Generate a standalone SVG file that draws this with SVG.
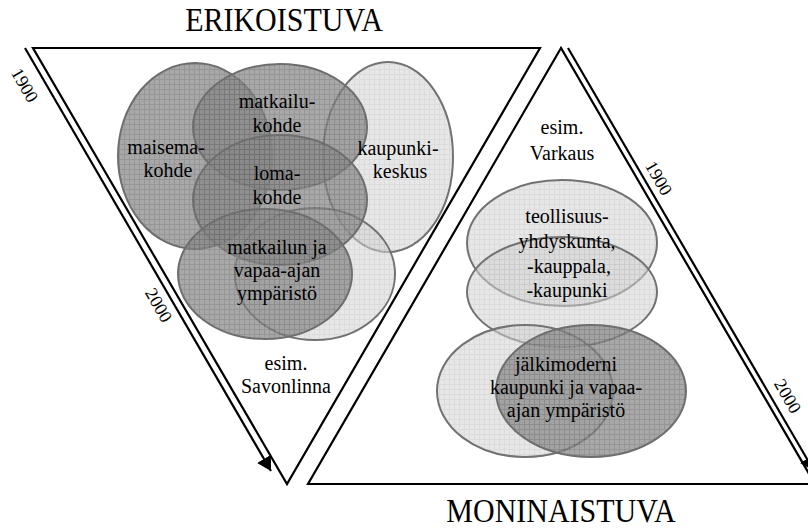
<svg xmlns="http://www.w3.org/2000/svg" width="808" height="528" viewBox="0 0 808 528">
<style>
.t{font-family:"Liberation Serif","Times New Roman",serif;font-size:20px;fill:#000;text-anchor:middle}
.title{font-family:"Liberation Serif","Times New Roman",serif;font-size:30px;fill:#000;text-anchor:middle}
.yr{font-family:"Liberation Serif","Times New Roman",serif;font-size:18px;fill:#000;text-anchor:middle}
.dark{fill:url(#gridDark);fill-opacity:0.72;stroke:#6e6e6e;stroke-width:2}
.light{fill:url(#gridLight);fill-opacity:0.56;stroke:#727272;stroke-width:2}
.edge{fill:none;stroke:#000;stroke-width:2.2;stroke-linejoin:miter}
.arr{fill:none;stroke:#000;stroke-width:2.2;marker-end:url(#ah)}
</style>
<defs>
<pattern id="gridDark" width="5" height="5" patternUnits="userSpaceOnUse">
<rect width="5" height="5" fill="#878787"/>
<path d="M0,4.5H5M4.5,0V5" stroke="#6e6e6e" stroke-width="1"/>
</pattern>
<pattern id="gridLight" width="5" height="5" patternUnits="userSpaceOnUse">
<rect width="5" height="5" fill="#d4d4d4"/>
<path d="M0,4.5H5M4.5,0V5" stroke="#c0c0c0" stroke-width="1"/>
</pattern>
<marker id="ah" markerUnits="userSpaceOnUse" markerWidth="14" markerHeight="16" viewBox="0 0 14 16" refX="14" refY="8" orient="auto">
<path d="M0,0L14,8L0,16z" fill="#000"/>
</marker>
</defs>
<rect width="808" height="528" fill="#fff"/>

<g id="connectors">
<polygon class="edge" points="33,48 540,48 287,484"/>
<polygon class="edge" points="561,48 308,484 815,484"/>
<path class="arr" d="M25,48L271,471"/>
<path class="arr" d="M568,48L814,471"/>
</g>

<g id="node-kaupunkikeskus"><ellipse class="light" cx="388" cy="157" rx="65" ry="95"/></g>
<g id="node-light-left"><ellipse class="light" cx="315" cy="274" rx="80" ry="66"/></g>
<g id="node-maisemakohde"><ellipse class="dark" cx="195" cy="156" rx="77" ry="93"/></g>
<g id="node-matkailukohde"><ellipse class="dark" cx="280" cy="127" rx="87" ry="63"/></g>
<g id="node-lomakohde"><ellipse class="dark" cx="280" cy="200" rx="87" ry="65"/></g>
<g id="node-matkailun-ymparisto"><ellipse class="dark" cx="265" cy="274" rx="87" ry="65"/></g>

<g id="node-teollisuus-top"><ellipse class="light" cx="562" cy="243" rx="95" ry="63"/></g>
<g id="node-teollisuus"><ellipse class="light" cx="562" cy="292" rx="95" ry="55"/></g>
<g id="node-light-right"><ellipse class="light" cx="525" cy="391" rx="88" ry="66"/></g>
<g id="node-jalkimoderni"><ellipse class="dark" cx="591" cy="391" rx="95" ry="66"/></g>

<g id="labels">
<text class="title" transform="translate(284,31) scale(1,1.1)">ERIKOISTUVA</text>
<text class="title" transform="translate(561,522) scale(1,1.1)">MONINAISTUVA</text>
<text class="t" x="166" y="154">maisema-</text>
<text class="t" x="168" y="177">kohde</text>
<text class="t" x="277" y="108">matkailu-</text>
<text class="t" x="277" y="132">kohde</text>
<text class="t" x="277" y="180">loma-</text>
<text class="t" x="277" y="204">kohde</text>
<text class="t" x="398" y="155">kaupunki-</text>
<text class="t" x="400" y="178">keskus</text>
<text class="t" x="277" y="254">matkailun ja</text>
<text class="t" x="277" y="277">vapaa-ajan</text>
<text class="t" x="277" y="300">ympäristö</text>
<text class="t" x="286" y="370">esim.</text>
<text class="t" x="286" y="393">Savonlinna</text>
<text class="t" x="562" y="134">esim.</text>
<text class="t" x="562" y="160">Varkaus</text>
<text class="t" x="567" y="223">teollisuus-</text>
<text class="t" x="567" y="248">yhdyskunta,</text>
<text class="t" x="569" y="273">-kauppala,</text>
<text class="t" x="567" y="297">-kaupunki</text>
<text class="t" x="566" y="371">jälkimoderni</text>
<text class="t" x="566" y="394">kaupunki ja vapaa-</text>
<text class="t" x="566" y="417">ajan ympäristö</text>
<text class="yr" transform="translate(25,85) rotate(59.8)" dy="0.35em">1900</text>
<text class="yr" transform="translate(159,305) rotate(59.8)" dy="0.35em">2000</text>
<text class="yr" transform="translate(659,178) rotate(59.8)" dy="0.35em">1900</text>
<text class="yr" transform="translate(788,396) rotate(59.8)" dy="0.35em">2000</text>
</g>
</svg>
